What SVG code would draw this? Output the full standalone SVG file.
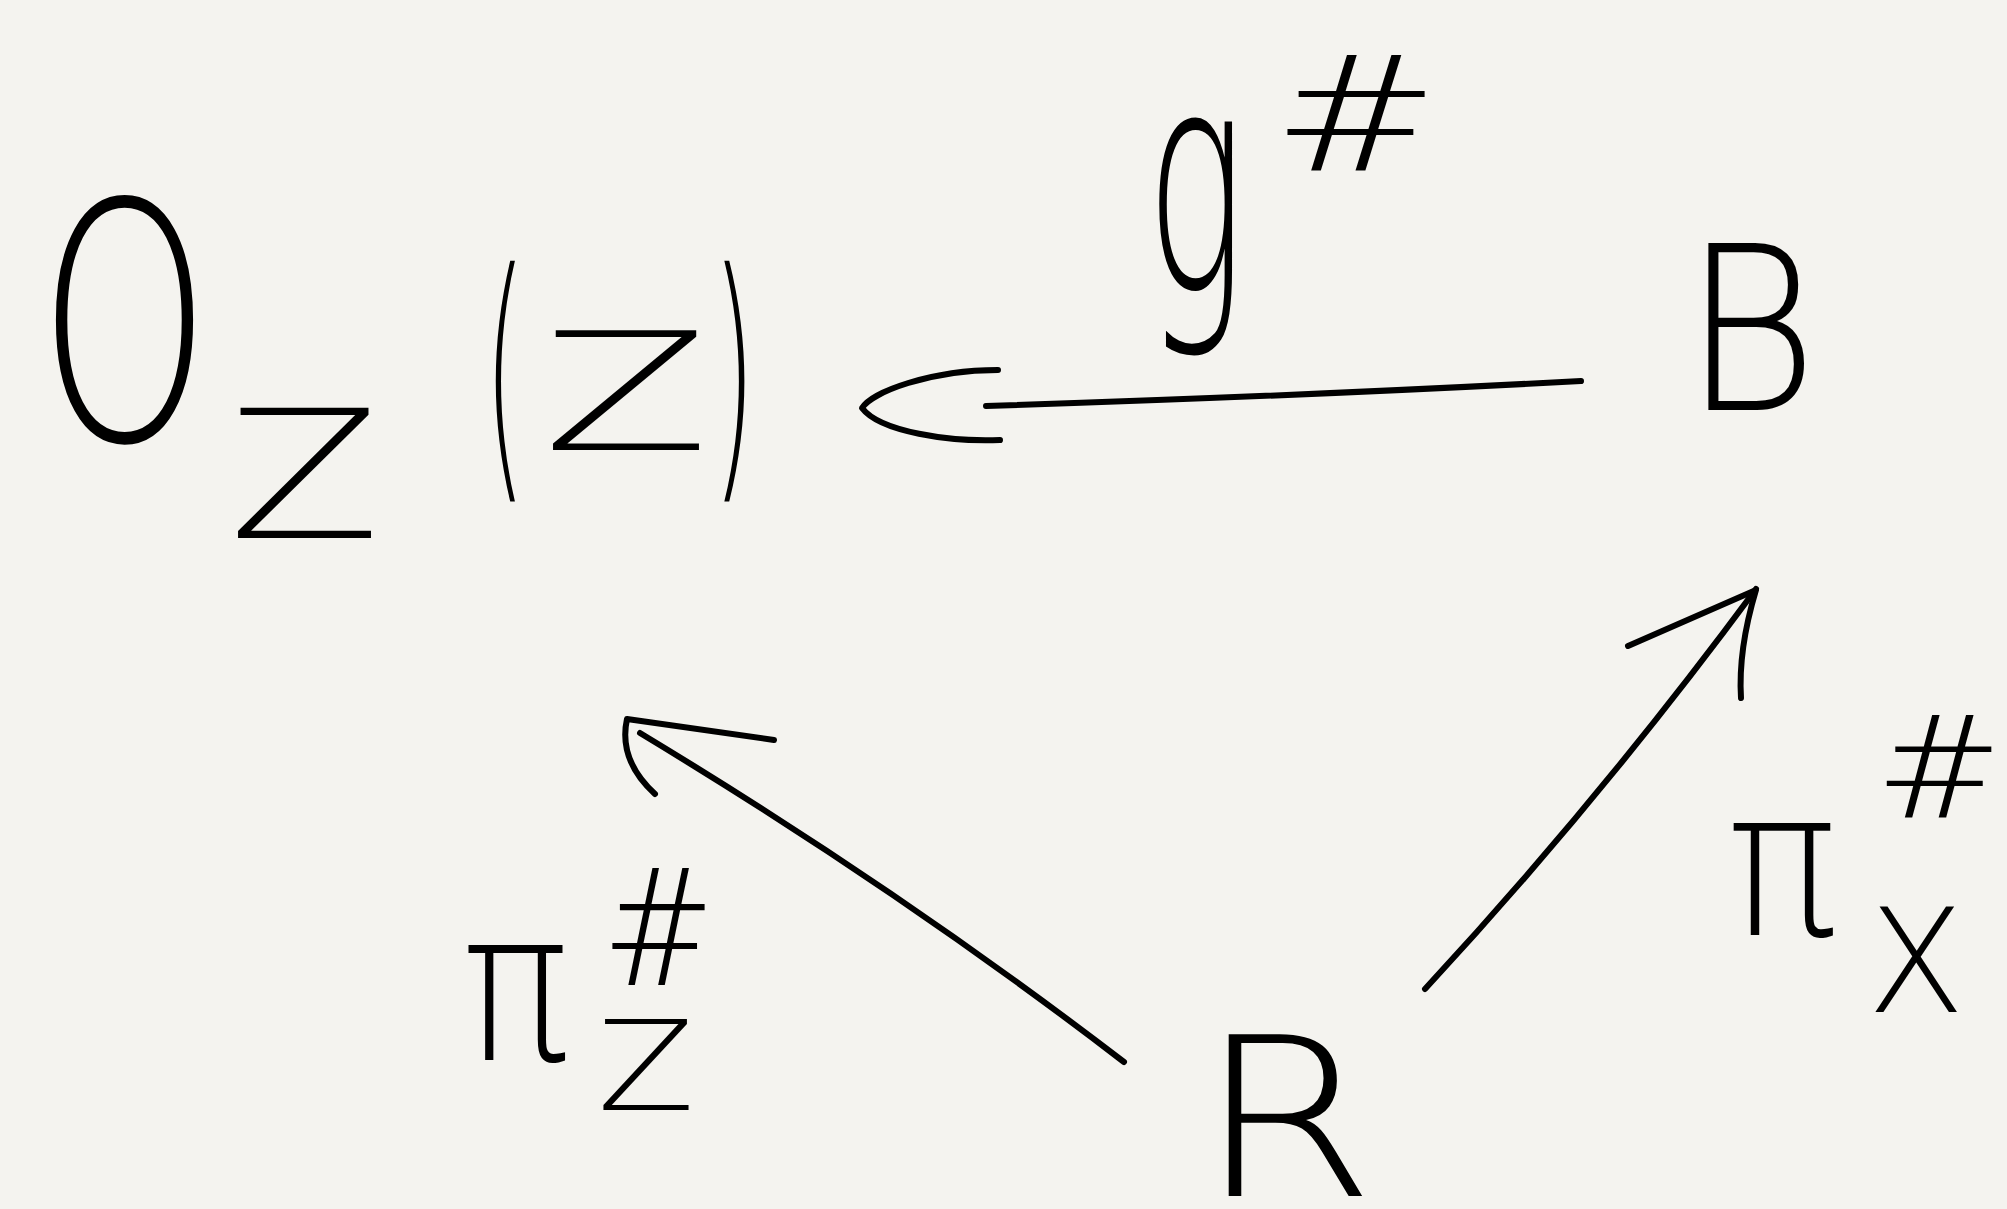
<svg xmlns="http://www.w3.org/2000/svg" width="2007" height="1209" viewBox="0 0 2007 1209">
<style>
text{font-family:"DejaVu Sans","Liberation Sans",sans-serif;font-weight:200;fill:#000;}
.c{fill:none;stroke:#000;stroke-width:6;stroke-linecap:round;stroke-linejoin:round;}
</style>
<rect width="2007" height="1209" fill="#f4f3ef"/>
<g id="node-OZZ">
<text x="38" y="440" font-size="330" textLength="173" lengthAdjust="spacingAndGlyphs">O</text>
<text x="228" y="538" font-size="178" textLength="153" lengthAdjust="spacingAndGlyphs">Z</text>
<text x="484" y="466" font-size="270" textLength="42" lengthAdjust="spacingAndGlyphs">(</text>
<text x="542" y="450" font-size="164" textLength="168" lengthAdjust="spacingAndGlyphs">Z</text>
<text x="712" y="466" font-size="270" textLength="44" lengthAdjust="spacingAndGlyphs">)</text>
</g>
<g id="node-B">
<text x="1683" y="410" font-size="228" textLength="135" lengthAdjust="spacingAndGlyphs">B</text>
</g>
<g id="node-R">
<text x="1197" y="1196" font-size="222" textLength="179" lengthAdjust="spacingAndGlyphs">R</text>
</g>
<g id="label-g">
<text x="1146" y="291" font-size="310" textLength="99" lengthAdjust="spacingAndGlyphs">g</text>
<text x="1272" y="170" font-size="160" textLength="168" lengthAdjust="spacingAndGlyphs">#</text>
</g>
<g id="label-piZ">
<text x="462" y="1060" font-size="210" textLength="108" lengthAdjust="spacingAndGlyphs">π</text>
<text x="597" y="1110" font-size="124" textLength="98" lengthAdjust="spacingAndGlyphs">Z</text>
<text x="602" y="985" font-size="162" textLength="113" lengthAdjust="spacingAndGlyphs">#</text>
</g>
<g id="label-piX">
<text x="1727" y="935" font-size="205" textLength="111" lengthAdjust="spacingAndGlyphs">π</text>
<text x="1867" y="1012" font-size="144" textLength="98" lengthAdjust="spacingAndGlyphs">X</text>
<text x="1875" y="818" font-size="142" textLength="128" lengthAdjust="spacingAndGlyphs">#</text>
</g>
<g id="connectors">
<path class="c" d="M1581,381 Q1300,396 986,406"/>
<path class="c" d="M998,370 C930,370 872,392 862,408 C880,432 950,442 1000,440"/>
<path class="c" d="M1124,1062 Q900,890 640,733"/>
<path class="c" d="M774,740 L627,719 Q618,760 655,794"/>
<path class="c" d="M1425,989 Q1600,800 1756,589"/>
<path class="c" d="M1628,646 L1756,590 Q1738,650 1741,698"/>
</g>
</svg>
